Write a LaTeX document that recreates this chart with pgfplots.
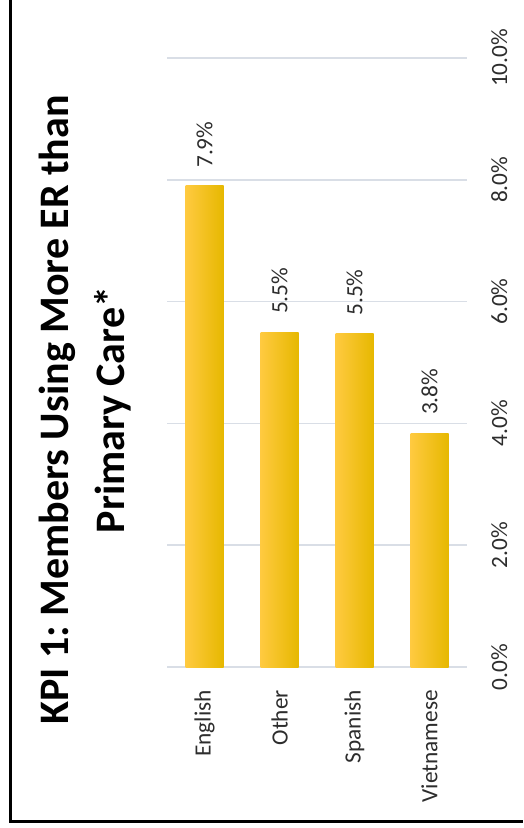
\documentclass[border=0pt]{standalone}
\usepackage{pgfplots}
\pgfplotsset{compat=1.18}
\usepackage{fontspec}
\setmainfont{Carlito}
\definecolor{gridc}{RGB}{217,222,230}
\definecolor{barL}{RGB}{255,202,64}
\definecolor{barM}{RGB}{255,198,0}
\definecolor{barR}{RGB}{230,184,0}
\definecolor{labc}{RGB}{45,45,45}
\begin{document}
\frenchspacing
\begin{tikzpicture}
\useasboundingbox (0,0) rectangle (523pt,828pt);
\draw[line width=3pt] (10.5pt,828pt) -- (10.5pt,6.5pt) -- (523pt,6.5pt);
\node[rotate=90, align=center, font=\fontsize{42}{56}\selectfont\bfseries, inner sep=0pt] at (85pt,418pt)
  {KPI 1: Members Using More ER than\\Primary Care*};
\begin{axis}[
  at={(167pt,161pt)}, anchor=south west,
  scale only axis, width=300pt, height=609pt,
  xmin=-0.5, xmax=3.5, ymin=0, ymax=10,
  xtick={0,1,2,3},
  xticklabels={English,Other,Spanish,Vietnamese},
  ytick={0,2,4,6,8,10},
  yticklabels={0.0\%,2.0\%,4.0\%,6.0\%,8.0\%,10.0\%},
  yticklabel pos=right,
  axis line style={draw=none},
  major tick length=0pt,
  ymajorgrids, grid style={draw=gridc, line width=1.5pt},
  ticklabel style={font=\fontsize{23.3}{28}\selectfont, text=labc},
  xticklabel style={rotate=90, anchor=east, inner sep=0pt},
  xticklabel shift=23pt,
  yticklabel style={rotate=90, anchor=north, inner sep=0pt},
  yticklabel shift=24pt,
  clip=false,
  cycle list={{mark=none}},
  every axis plot/.append style={ybar, bar width=38pt, bar shift=0pt, draw=none, mark=none,
    left color=barL, middle color=barM, right color=barR,
    nodes near coords={\pgfmathprintnumber[fixed,fixed zerofill,precision=1]{\pgfplotspointmeta}\%},
    every node near coord/.append style={rotate=90, anchor=west, inner xsep=18pt, inner ysep=0pt,
      font=\fontsize{23.3}{28}\selectfont, text=labc, /pgf/number format/assume math mode=true}},
]
\addplot coordinates {(0,7.9)};
\addplot coordinates {(1,5.5)};
\addplot coordinates {(2,5.47)};
\addplot coordinates {(3,3.84)};
\end{axis}
\end{tikzpicture}
\end{document}
